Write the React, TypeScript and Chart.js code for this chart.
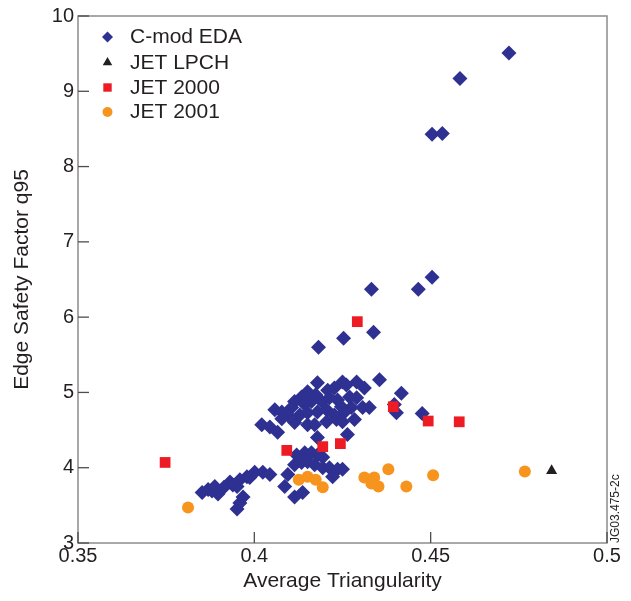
import React, { useEffect, useRef } from "react";
import { Chart, registerables } from "chart.js";

Chart.register(...registerables);

// ---- Data ----
const seriesNames = ["C-mod EDA", "JET LPCH", "JET 2000", "JET 2001"];

const cmodX = [
  0.4722, 0.4583, 0.4504, 0.4533, 0.4465, 0.4504, 0.4332, 0.4338, 0.4253, 0.4182,
  0.4179, 0.425, 0.4261, 0.429, 0.4312, 0.4355, 0.4417, 0.4151, 0.4134, 0.4208,
  0.4227, 0.4114, 0.4106, 0.4143, 0.4162, 0.4191, 0.4236, 0.4247, 0.427, 0.429,
  0.4275, 0.4307, 0.4326, 0.4256, 0.4058, 0.4078, 0.4095, 0.4129, 0.4151, 0.4179,
  0.4205, 0.4227, 0.4021, 0.4044, 0.4066, 0.4114, 0.4151, 0.4205, 0.4233, 0.425,
  0.4284, 0.4179, 0.4264, 0.4397, 0.4403, 0.4476, 0.4174, 0.4078, 0.4213, 0.4171,
  0.412, 0.4143, 0.4162, 0.4179, 0.4194, 0.4114, 0.4134, 0.4151, 0.4171, 0.4194,
  0.4213, 0.4236, 0.425, 0.4222, 0.4095, 0.4086, 0.4114, 0.4137,
  0.3852, 0.3869, 0.388, 0.3888, 0.3897, 0.3914, 0.3931, 0.3939, 0.3951, 0.3959,
  0.3979, 0.3987, 0.4001, 0.4024, 0.4044, 0.3968, 0.3951, 0.3959,
];
const cmodY = [
  9.51, 9.17, 8.43, 8.44, 6.37, 6.53, 6.37, 5.8, 5.72, 5.6,
  5.13, 5.14, 5.1, 5.14, 5.06, 5.17, 4.99, 5.01, 4.94, 5.03,
  5.06, 4.88, 4.8, 4.84, 4.88, 4.88, 4.9, 4.81, 4.94, 4.93,
  4.8, 4.8, 4.8, 4.74, 4.77, 4.74, 4.7, 4.7, 4.73, 4.74,
  4.77, 4.7, 4.57, 4.54, 4.47, 4.6, 4.57, 4.61, 4.64, 4.61,
  4.64, 4.4, 4.44, 4.84, 4.73, 4.72, 4.97, 4.65, 4.93, 4.57,
  4.17, 4.2, 4.2, 4.17, 4.14, 4.04, 4.07, 4.08, 4.04, 4.0,
  4.0, 3.98, 3.98, 3.88, 3.91, 3.75, 3.61, 3.67,
  3.67, 3.71, 3.69, 3.75, 3.65, 3.74, 3.81, 3.77, 3.75, 3.84,
  3.88, 3.87, 3.94, 3.94, 3.91, 3.61, 3.45, 3.53,
];

const lpchX = [0.4843];
const lpchY = [3.96];

const jet2000X = [0.3747, 0.4092, 0.4194, 0.4244, 0.4292, 0.4394, 0.4493, 0.4581];
const jet2000Y = [4.07, 4.23, 4.28, 4.32, 5.94, 4.81, 4.62, 4.61];

const jet2001X = [0.3812, 0.4126, 0.4151, 0.4174, 0.4194, 0.4312, 0.434, 0.4332, 0.4352, 0.438, 0.4431, 0.4507, 0.4767];
const jet2001Y = [3.47, 3.84, 3.88, 3.84, 3.74, 3.87, 3.87, 3.79, 3.75, 3.98, 3.75, 3.9, 3.95];

const xTickValues = [0.35, 0.4, 0.45, 0.5];
const xTickLabels = ["0.35", "0.4", "0.45", "0.5"];
const yTickValues = [3, 4, 5, 6, 7, 8, 9, 10];
const yTickLabels = ["3", "4", "5", "6", "7", "8", "9", "10"];

const xTitle = "Average Triangularity";
const yTitle = "Edge Safety Factor q95";
const figureId = "JG03.475-2c";

// ---- Styles ----
const NAVY = "#2e3192";
const RED = "#ed1c24";
const ORANGE = "#f7941d";
const BLACK = "#231f20";
const TEXT = "#231f20";
const FONT = "'Liberation Sans', Arial, Helvetica, sans-serif";

const zip = (xs: number[], ys: number[]) => xs.map((x, i) => ({ x, y: ys[i] }));

function drawMarker(ctx: CanvasRenderingContext2D, kind: string, x: number, y: number, color: string) {
  ctx.fillStyle = color;
  ctx.beginPath();
  if (kind === "diamond") {
    const r = 5.5;
    ctx.moveTo(x - r, y);
    ctx.lineTo(x, y - r);
    ctx.lineTo(x + r, y);
    ctx.lineTo(x, y + r);
  } else if (kind === "triangle") {
    const r = 5.5;
    ctx.moveTo(x, y - r);
    ctx.lineTo(x + r * 0.866, y + r / 2);
    ctx.lineTo(x - r * 0.866, y + r / 2);
  } else if (kind === "square") {
    const h = 4.2;
    ctx.rect(x - h, y - h, 2 * h, 2 * h);
  } else {
    ctx.arc(x, y, 5, 0, Math.PI * 2);
  }
  ctx.closePath();
  ctx.fill();
}

const framePlugin = {
  id: "frameAndLegend",
  afterDraw(chart: any) {
    const { ctx, chartArea, scales } = chart;
    const { left, right, top, bottom } = chartArea;
    ctx.save();
    // frame
    ctx.strokeStyle = "#8c8c8c";
    ctx.lineWidth = 1.5;
    ctx.strokeRect(left, top, right - left, bottom - top);
    // inward ticks
    ctx.strokeStyle = "#4d4d4d";
    ctx.lineWidth = 1.3;
    for (const v of xTickValues) {
      const px = scales.x.getPixelForValue(v);
      ctx.beginPath();
      ctx.moveTo(px, bottom);
      ctx.lineTo(px, bottom - 11);
      ctx.stroke();
    }
    for (const v of yTickValues) {
      const py = scales.y.getPixelForValue(v);
      ctx.beginPath();
      ctx.moveTo(left, py);
      ctx.lineTo(left + 11, py);
      ctx.stroke();
    }
    // legend
    const kinds = ["diamond", "triangle", "square", "circle"];
    const colors = [NAVY, BLACK, RED, ORANGE];
    const rowY = [37, 62.5, 87.5, 112];
    ctx.font = `21px ${FONT}`;
    ctx.textAlign = "left";
    ctx.textBaseline = "middle";
    for (let i = 0; i < seriesNames.length; i++) {
      drawMarker(ctx, kinds[i], 107.5, rowY[i], colors[i]);
      ctx.fillStyle = TEXT;
      ctx.fillText(seriesNames[i], 130, rowY[i] + 0.5);
    }
    // figure id
    ctx.translate(615.5, bottom);
    ctx.rotate(-Math.PI / 2);
    ctx.font = `12px ${FONT}`;
    ctx.fillStyle = TEXT;
    ctx.textAlign = "left";
    ctx.textBaseline = "middle";
    ctx.fillText(figureId, 0, 0);
    ctx.restore();
  },
};

export default function App() {
  const ref = useRef<HTMLCanvasElement | null>(null);

  useEffect(() => {
    if (!ref.current) return;
    const chart = new Chart(ref.current, {
      type: "scatter",
      data: {
        datasets: [
          {
            label: seriesNames[1],
            data: zip(lpchX, lpchY),
            pointStyle: "triangle",
            pointRadius: 6.4,
            backgroundColor: BLACK,
            borderColor: BLACK,
            borderWidth: 0,
            order: 1,
          },
          {
            label: seriesNames[3],
            data: zip(jet2001X, jet2001Y),
            pointStyle: "circle",
            pointRadius: 6,
            backgroundColor: ORANGE,
            borderColor: ORANGE,
            borderWidth: 0,
            order: 2,
          },
          {
            label: seriesNames[2],
            data: zip(jet2000X, jet2000Y),
            pointStyle: "rect",
            pointRadius: 7.6,
            backgroundColor: RED,
            borderColor: RED,
            borderWidth: 0,
            order: 3,
          },
          {
            label: seriesNames[0],
            data: zip(cmodX, cmodY),
            pointStyle: "rectRot",
            pointRadius: 7.5,
            backgroundColor: NAVY,
            borderColor: NAVY,
            borderWidth: 0,
            order: 4,
          },
        ],
      },
      options: {
        animation: false,
        responsive: false,
        devicePixelRatio: 1,
        events: [],
        layout: { padding: { top: 14, right: 24, bottom: 0, left: 0 } },
        plugins: {
          legend: { display: false },
          tooltip: { enabled: false },
        },
        scales: {
          x: {
            type: "linear",
            min: 0.35,
            max: 0.5,
            grid: { display: false, drawTicks: false },
            border: { display: false },
            afterBuildTicks: (scale: any) => {
              scale.ticks = xTickValues.map((v) => ({ value: v }));
            },
            afterFit: (scale: any) => {
              scale.height = 58;
            },
            ticks: {
              padding: 1.5,
              color: TEXT,
              font: { family: FONT, size: 20 },
              maxRotation: 0,
              autoSkip: false,
              callback: (value: any) => {
                const i = xTickValues.findIndex((v) => Math.abs(v - Number(value)) < 1e-9);
                return i >= 0 ? xTickLabels[i] : "";
              },
            },
            title: {
              display: true,
              text: xTitle,
              color: TEXT,
              font: { family: FONT, size: 21 },
              padding: { top: 0, bottom: 7 },
            },
          },
          y: {
            type: "linear",
            min: 3,
            max: 10,
            grid: { display: false, drawTicks: false },
            border: { display: false },
            afterBuildTicks: (scale: any) => {
              scale.ticks = yTickValues.map((v) => ({ value: v }));
            },
            afterFit: (scale: any) => {
              scale.width = 78;
            },
            ticks: {
              padding: 4,
              color: TEXT,
              font: { family: FONT, size: 20 },
              autoSkip: false,
              callback: (value: any) => {
                const i = yTickValues.findIndex((v) => Math.abs(v - Number(value)) < 1e-9);
                return i >= 0 ? yTickLabels[i] : "";
              },
            },
            title: {
              display: true,
              text: yTitle,
              color: TEXT,
              font: { family: FONT, size: 21 },
              padding: { top: 10, bottom: 0 },
            },
          },
        },
      },
      plugins: [framePlugin],
    });
    return () => chart.destroy();
  }, []);

  return (
    <div style={{ position: "absolute", left: 0, top: 0, width: 631, height: 601, background: "#fff" }}>
      <canvas ref={ref} width={631} height={601} style={{ display: "block" }} />
    </div>
  );
}
